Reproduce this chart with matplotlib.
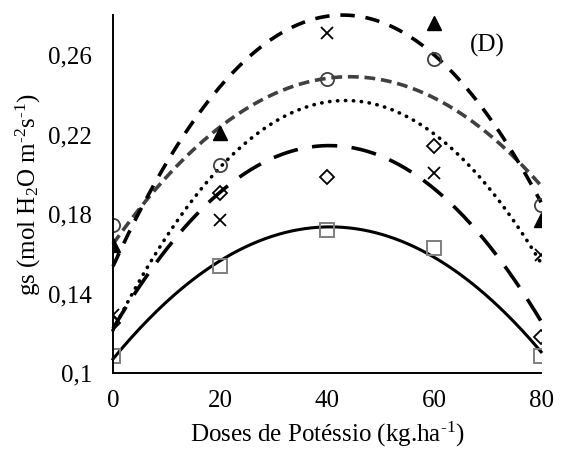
import numpy as np
import matplotlib
matplotlib.use("Agg")
import matplotlib.pyplot as plt

plt.rcParams['font.family'] = ['Liberation Serif', 'DejaVu Serif']
plt.rcParams['mathtext.fontset'] = 'custom'
plt.rcParams['mathtext.rm'] = 'Liberation Serif'
plt.rcParams['mathtext.it'] = 'Liberation Serif:italic'

# doses of potassium (kg/ha)
doses = [0, 20, 40, 60, 80]

# gs values
gs_square = [0.1086, 0.1538, 0.172, 0.1629, 0.1086]
gs_triangle = [0.1644, 0.2208, 0.285, 0.276, 0.177]   # point at 40 lies above the axis top
gs_circle = [0.1745, 0.2047, 0.2479, 0.258, 0.1845]
gs_cross = [0.129, 0.177, 0.271, 0.2006, 0.1594]
gs_diamond = [0.1252, 0.1906, 0.1986, 0.2142, 0.118]

yticks = [0.1, 0.14, 0.18, 0.22, 0.26]
ytick_labels = ['0,1', '0,14', '0,18', '0,22', '0,26']

fig = plt.figure(figsize=(5.63, 4.55), dpi=100)
ax = fig.add_axes([0.2007, 0.1802, 0.7603, 0.7863])

xs = np.linspace(0, 80, 200)

def trend(y, **kw):
    c = np.polyfit(doses, y, 2)
    ax.plot(xs, np.polyval(c, xs), clip_on=False, **kw)

# trend lines (2nd order polynomials)
trend(gs_square, color='black', lw=2.2, ls='-')
trend(gs_diamond, color='black', lw=2.6, ls=(0, (7, 4)))
trend(gs_cross, color='black', lw=2.6, ls=(0, (0.1, 2.1)), dash_capstyle='round')
trend(gs_circle, color='#404040', lw=2.6, ls=(0, (3, 1.6)))
trend(gs_triangle, color='black', lw=2.6, ls=(0, (4, 3)))

# data points
ax.plot(doses, gs_square, 's', ms=9.5, mfc='none', mec='#7f7f7f', mew=1.4, ls='none')
ax.plot(doses, gs_diamond, 'D', ms=7, mfc='none', mec='black', mew=1.3, ls='none')
ax.plot(doses, gs_cross, 'x', ms=9, mec='black', mew=1.3, ls='none')
ax.plot(doses, gs_circle, 'o', ms=9.5, mfc='none', mec='#404040', mew=1.3, ls='none')
ax.plot(doses, gs_triangle, '^', ms=9.5, mfc='black', mec='black', ls='none')

ax.set_xlim(0, 80)
ax.set_ylim(0.1, 0.28)
ax.set_xticks(doses)
ax.set_yticks(yticks)
ax.set_yticklabels(ytick_labels)
ax.tick_params(length=0, labelsize=18)
ax.tick_params(axis='x', pad=12)
ax.tick_params(axis='y', pad=15)

for s in ['top', 'right']:
    ax.spines[s].set_visible(False)
for s in ['left', 'bottom']:
    ax.spines[s].set_linewidth(1.4)

ax.set_xlabel(r'Doses de Potéssio (kg.ha$^{\text{-}1}$)', fontsize=18, labelpad=6)
ax.set_ylabel(r'gs (mol H$_2$O m$^{\text{-}2}$s$^{\text{-}1}$)', fontsize=18, labelpad=4)
ax.text(70, 0.265, '(D)', fontsize=18, ha='center', va='center')

fig.savefig('out.png', dpi=100)
